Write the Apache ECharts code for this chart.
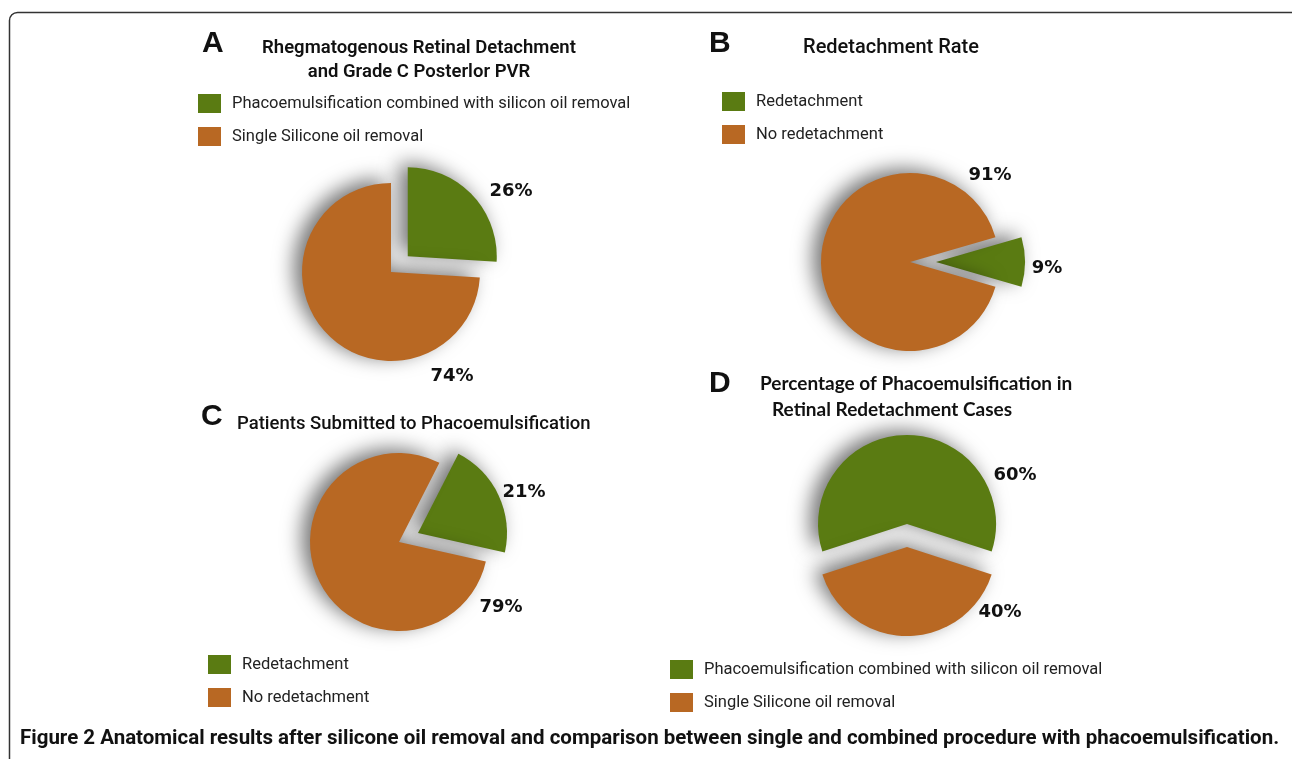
<!DOCTYPE html>
<html>
<head>
<meta charset="utf-8">
<title>Figure 2</title>
<script src="https://cdn.jsdelivr.net/npm/echarts@6/dist/echarts.min.js"></script>
<style>
  html, body { margin: 0; padding: 0; background: #fff; }
  #chart { width: 1292px; height: 759px; }
</style>
</head>
<body>
<div id="chart"></div>
<script>
// legend / slice names
var namesProcedure = ['Phacoemulsification combined with silicon oil removal', 'Single Silicone oil removal'];
var namesRedetach = ['Redetachment', 'No redetachment'];

// percentages per panel, green slice first
var valuesA = [26, 74];
var valuesB = [9, 91];
var valuesC = [21, 79];
var valuesD = [60, 40];

var GREEN = '#5a7b12';
var ORANGE = '#b86823';
var FONT = 'Roboto, "Open Sans", sans-serif';

var chart = echarts.init(document.getElementById('chart'));

// one panel = exploded pie + a plain twin pie that only carries the % labels
// (labels of a selected slice move with it, so they live on the twin)
function panel(names, values, center, startAngle, offset, labelPos) {
    var base = {
        type: 'pie',
        center: center,
        radius: 89,
        startAngle: startAngle,
        clockwise: true,
        avoidLabelOverlap: false,
        emphasis: { disabled: true }
    };
    var pie = Object.assign({}, base, {
        selectedMode: 'multiple',
        selectedOffset: offset,
        data: values.map(function (v, i) {
            return { name: names[i], value: v, selected: i === 0, itemStyle: { color: i === 0 ? GREEN : ORANGE } };
        }),
        itemStyle: {
            shadowBlur: 20,
            shadowColor: 'rgba(0,0,0,0.55)',
            shadowOffsetX: -8,
            shadowOffsetY: -4
        },
        label: { show: false },
        labelLine: { show: false }
    });
    var labels = Object.assign({}, base, {
        silent: true,
        z: 5,
        data: values.map(function (v, i) {
            return { name: names[i], value: v };
        }),
        itemStyle: { color: 'rgba(0,0,0,0)' },
        label: {
            show: true,
            position: 'outside',
            formatter: '{c}%',
            fontFamily: '"DejaVu Sans"',
            fontWeight: 'bold',
            fontSize: 18,
            color: '#111'
        },
        labelLine: { show: false },
        labelLayout: function (p) {
            var xy = labelPos[p.dataIndex];
            return { x: xy[0], y: xy[1], align: 'center', verticalAlign: 'middle' };
        }
    });
    return [pie, labels];
}

function legend(names, left, top) {
    return {
        data: names,
        left: left,
        top: top,
        orient: 'vertical',
        icon: 'rect',
        itemWidth: 23,
        itemHeight: 19,
        itemGap: 14,
        padding: 0,
        selectedMode: false,
        textStyle: { fontFamily: FONT, fontSize: 16.5, color: '#222', padding: [0, 0, 0, 6] }
    };
}

function text(str, x, y, size, weight, align, family) {
    return {
        type: 'text',
        x: x,
        y: y,
        style: {
            text: str,
            fontSize: size,
            fontWeight: weight,
            fontFamily: family || FONT,
            fill: '#111',
            align: align || 'left',
            verticalAlign: 'middle'
        }
    };
}

var LETTER = '"Liberation Sans", Arial, sans-serif';

var pA = panel(namesProcedure, valuesA, [391, 272], 90, 23, [[511, 191], [452, 376]]);
var pB = panel(namesRedetach, valuesB, [910, 262], 16.2, 26, [[1047, 268], [990, 175]]);
var pC = panel(namesRedetach, valuesC, [399, 542], 63, 21, [[524, 492], [501, 607]]);
var pD = panel(namesProcedure, valuesD, [907, 547], 198, 23, [[1015, 475], [1000, 612]]);

var option = {
    animation: false,
    backgroundColor: '#fff',
    legend: [
        legend(namesProcedure, 198, 94),
        legend(namesRedetach, 722, 92),
        legend(namesRedetach, 208, 655),
        legend(namesProcedure, 670, 660)
    ],
    series: [pA[0], pB[0], pC[0], pD[0], pA[1], pB[1], pC[1], pD[1]],
    graphic: [
        {
            type: 'rect',
            z: -1,
            shape: { x: 9.5, y: 12.5, width: 1290, height: 800, r: 8 },
            style: { fill: 'none', stroke: '#333', lineWidth: 1.5 }
        },
        text('A', 202, 44, 30, 'bold', 'left', LETTER),
        text('B', 709, 44, 30, 'bold', 'left', LETTER),
        text('C', 201, 417, 30, 'bold', 'left', LETTER),
        text('D', 709, 384, 30, 'bold', 'left', LETTER),
        text('Rhegmatogenous Retinal Detachment', 419, 48, 18.5, 600, 'center'),
        text('and Grade C Posterlor PVR', 419, 72, 18.5, 600, 'center'),
        text('Redetachment Rate', 891, 48, 20, 500, 'center'),
        text('Patients Submitted to Phacoemulsification', 237, 424, 18.5, 500, 'left'),
        text('Percentage of Phacoemulsification in', 760, 384, 19, 'bold', 'left', 'Lato, sans-serif'),
        text('Retinal Redetachment Cases', 772, 410, 19, 'bold', 'left', 'Lato, sans-serif'),
        text('Figure 2 Anatomical results after silicone oil removal and comparison between single and combined procedure with phacoemulsification.',
            20, 739, 20.5, 'bold', 'left')
    ]
};

chart.setOption(option);
</script>
</body>
</html>
